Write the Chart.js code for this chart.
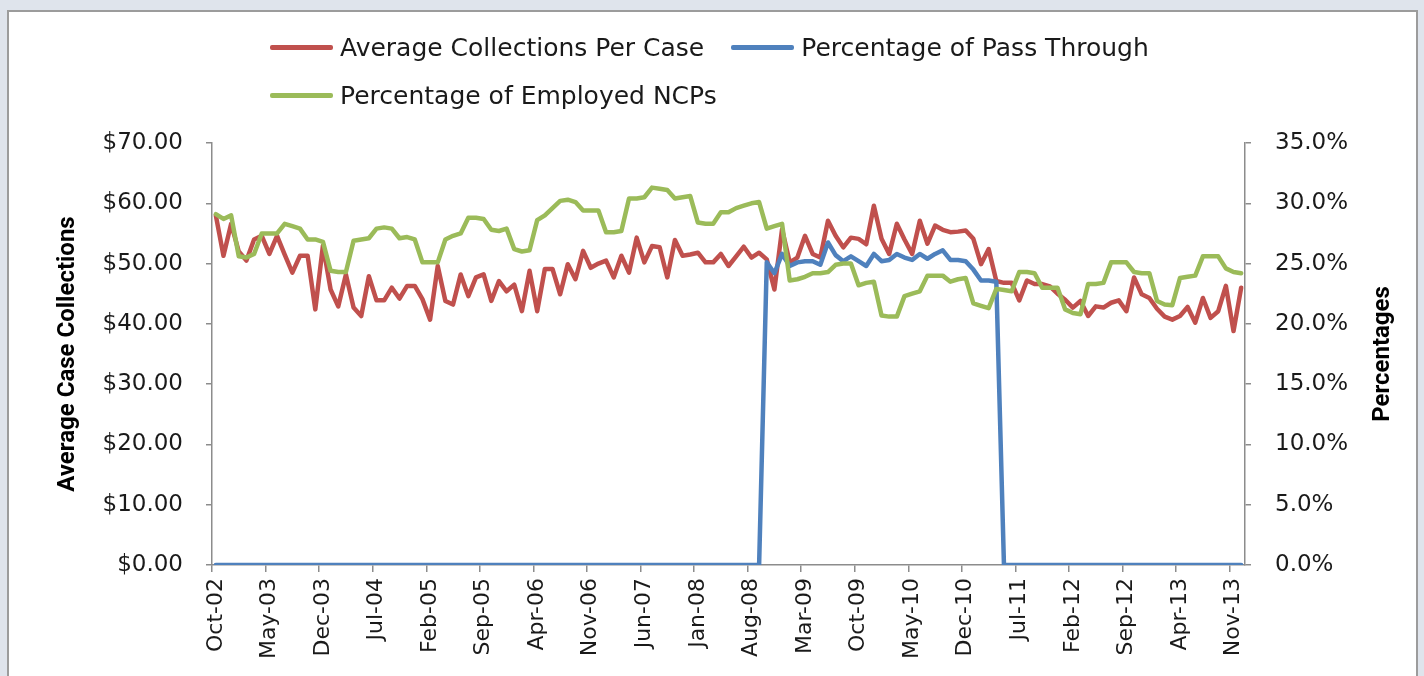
<!DOCTYPE html>
<html>
<head>
<meta charset="utf-8">
<script src="https://cdn.jsdelivr.net/npm/chart.js@4.4.1/dist/chart.umd.min.js"></script>
<style>
  html, body { margin:0; padding:0; width:1424px; height:676px; overflow:hidden; background:#dfe4ec; }
  #panel { position:absolute; left:7px; top:10px; width:1407px; height:700px; background:#ffffff;
           border-left:2px solid #9c9c9c; border-top:2px solid #9c9c9c; border-right:2px solid #9c9c9c; }
  #chart { position:absolute; left:0; top:0; }
  .lg-row { position:absolute; left:270px; display:flex; align-items:center; height:30px;
            font-family:"DejaVu Sans", sans-serif; font-size:25px; color:#1a1a1a; white-space:nowrap; }
  .lg-item { display:flex; align-items:center; margin-right:27px; }
  .lg-sw { width:63px; height:5px; border-radius:2px; margin-right:7px; }
</style>
</head>
<body>
<div id="panel"></div>
<canvas id="chart" width="1424" height="676"></canvas>
<div id="legend"></div>
<script>
// ---------------- data ----------------
const MONTH_NAMES = ['Jan','Feb','Mar','Apr','May','Jun','Jul','Aug','Sep','Oct','Nov','Dec'];
const START_YEAR = 2002;
const START_MONTH = 9; // Oct

const seriesNames = ['Average Collections Per Case', 'Percentage of Pass Through', 'Percentage of Employed NCPs'];
const seriesColors = ['#c0504d', '#4f81bd', '#9bbb59'];

// Average Collections Per Case ($), monthly Oct-02 .. Dec-13
const avgCollections = [
  58.0, 51.3, 56.6, 52.0, 50.5, 54.0, 54.6, 51.6, 54.6, 51.5,
  48.5, 51.3, 51.3, 42.4, 53.0, 45.7, 42.9, 48.2, 42.7, 41.3,
  47.9, 43.9, 43.9, 46.0, 44.2, 46.3, 46.3, 44.1, 40.7, 49.6,
  43.8, 43.2, 48.2, 44.6, 47.7, 48.2, 43.8, 47.1, 45.4, 46.5,
  42.1, 48.8, 42.1, 49.1, 49.1, 44.9, 49.9, 47.4, 52.1, 49.3,
  50.0, 50.5, 47.7, 51.3, 48.5, 54.3, 50.2, 52.9, 52.7, 47.7,
  53.9, 51.3, 51.5, 51.8, 50.2, 50.2, 51.6, 49.6, 51.2, 52.8,
  51.0, 51.8, 50.7, 45.7, 55.7, 50.2, 51.0, 54.6, 51.6, 51.0,
  57.1, 54.6, 52.7, 54.3, 54.1, 53.2, 59.6, 54.1, 51.6, 56.6,
  54.0, 51.6, 57.1, 53.3, 56.3, 55.6, 55.2, 55.3, 55.5, 54.1,
  49.9, 52.4, 47.1, 46.8, 46.8, 43.9, 47.2, 46.6, 46.6, 46.2,
  45.0, 44.0, 42.7, 43.8, 41.3, 42.9, 42.7, 43.5, 43.9, 42.1,
  47.7, 44.9, 44.3, 42.5, 41.2, 40.7, 41.3, 42.8, 40.2, 44.3,
  41.0, 42.1, 46.3, 38.8, 46.0
];

// Percentage of Pass Through (%)
const passThrough = [
  0, 0, 0, 0, 0, 0, 0, 0, 0, 0,
  0, 0, 0, 0, 0, 0, 0, 0, 0, 0,
  0, 0, 0, 0, 0, 0, 0, 0, 0, 0,
  0, 0, 0, 0, 0, 0, 0, 0, 0, 0,
  0, 0, 0, 0, 0, 0, 0, 0, 0, 0,
  0, 0, 0, 0, 0, 0, 0, 0, 0, 0,
  0, 0, 0, 0, 0, 0, 0, 0, 0, 0,
  0, 0, 25.1, 24.2, 25.8, 24.8, 25.1, 25.2, 25.2, 24.9,
  26.75, 25.7, 25.2, 25.6, 25.2, 24.8, 25.8, 25.2, 25.3, 25.8,
  25.5, 25.3, 25.8, 25.4, 25.8, 26.1, 25.3, 25.3, 25.2, 24.5,
  23.6, 23.6, 23.5, 0, 0, 0, 0, 0, 0, 0,
  0, 0, 0, 0, 0, 0, 0, 0, 0, 0,
  0, 0, 0, 0, 0, 0, 0, 0, 0, 0,
  0, 0, 0, 0, 0
];

// Percentage of Employed NCPs (%)
const employedNCPs = [
  29.1, 28.7, 29.0, 25.6, 25.5, 25.8, 27.5, 27.5, 27.5, 28.3,
  28.1, 27.9, 27.0, 27.0, 26.8, 24.4, 24.3, 24.3, 26.9, 27.0,
  27.1, 27.9, 28.0, 27.9, 27.1, 27.2, 27.0, 25.1, 25.1, 25.1,
  27.0, 27.3, 27.5, 28.8, 28.8, 28.7, 27.8, 27.7, 27.9, 26.2,
  26.0, 26.1, 28.6, 29.0, 29.6, 30.2, 30.3, 30.1, 29.4, 29.4,
  29.4, 27.6, 27.6, 27.7, 30.4, 30.4, 30.5, 31.3, 31.2, 31.1,
  30.4, 30.5, 30.6, 28.4, 28.3, 28.3, 29.25, 29.25, 29.6, 29.8,
  30.0, 30.1, 27.9, 28.1, 28.3, 23.6, 23.7, 23.9, 24.2, 24.2,
  24.3, 24.9, 25.0, 25.0, 23.2, 23.4, 23.5, 20.7, 20.6, 20.6,
  22.3, 22.5, 22.7, 24.0, 24.0, 24.0, 23.5, 23.7, 23.8, 21.7,
  21.5, 21.3, 22.9, 22.8, 22.7, 24.3, 24.3, 24.2, 23.0, 23.0,
  23.0, 21.2, 20.9, 20.8, 23.3, 23.3, 23.4, 25.1, 25.1, 25.1,
  24.3, 24.2, 24.2, 21.9, 21.6, 21.55, 23.8, 23.9, 24.0, 25.6,
  25.6, 25.6, 24.6, 24.3, 24.2
];

const LABEL_STEP = 7;
const leftTicks = { min: 0, max: 70, step: 10 };
const rightTicks = { min: 0, max: 35, step: 5 };
const leftTitle = 'Average Case Collections';
const rightTitle = 'Percentages';

// category labels (Oct-02 ...)
const categories = avgCollections.map((_, i) => {
  const m = START_MONTH + i;
  const yy = (START_YEAR + Math.floor(m / 12)) % 100;
  return MONTH_NAMES[m % 12] + '-' + String(yy).padStart(2, '0');
});

// ---------------- legend (HTML) ----------------
(function buildLegend() {
  const rows = [[0, 1], [2]];
  const tops = [32, 80];
  const host = document.getElementById('legend');
  rows.forEach((row, r) => {
    const div = document.createElement('div');
    div.className = 'lg-row';
    div.style.top = tops[r] + 'px';
    row.forEach(k => {
      const it = document.createElement('div');
      it.className = 'lg-item';
      const sw = document.createElement('span');
      sw.className = 'lg-sw';
      sw.style.background = seriesColors[k];
      const tx = document.createElement('span');
      tx.textContent = seriesNames[k];
      it.appendChild(sw); it.appendChild(tx);
      div.appendChild(it);
    });
    host.appendChild(div);
  });
})();

// ---------------- chart ----------------
const AXIS = '#8c8c8c';
const TXT = '#1a1a1a';

const rightTitlePlugin = {
  id: 'rightTitlePlugin',
  afterDraw(chart) {
    const { ctx, chartArea } = chart;
    const s = chart.scales.y1;
    ctx.save();
    ctx.translate(s.right - 41, (chartArea.top + chartArea.bottom) / 2);
    ctx.rotate(-Math.PI / 2);
    ctx.font = 'bold 24px Roboto';
    ctx.fillStyle = '#000';
    ctx.textAlign = 'center';
    ctx.textBaseline = 'middle';
    ctx.fillText(rightTitle, 0, 0);
    ctx.restore();
  }
};

new Chart(document.getElementById('chart'), {
  type: 'line',
  data: {
    labels: categories,
    datasets: [
      { label: seriesNames[0], data: avgCollections, yAxisID: 'y', borderColor: seriesColors[0], order: 2 },
      { label: seriesNames[1], data: passThrough, yAxisID: 'y1', borderColor: seriesColors[1], order: 1 },
      { label: seriesNames[2], data: employedNCPs, yAxisID: 'y1', borderColor: seriesColors[2], order: 0 }
    ]
  },
  options: {
    responsive: false,
    animation: false,
    devicePixelRatio: 1,
    layout: { padding: { top: 143, left: 0, right: 0, bottom: 0 } },
    elements: {
      line: { borderWidth: 4.5, tension: 0, borderJoinStyle: 'round', borderCapStyle: 'round', fill: false },
      point: { radius: 0, hoverRadius: 0 }
    },
    plugins: { legend: { display: false }, tooltip: { enabled: false }, title: { display: false } },
    scales: {
      x: {
        offset: true,
        grid: {
          offset: true, drawOnChartArea: false, drawTicks: true, tickLength: 7, lineWidth: 1.5,
          color: (c) => (c.index % LABEL_STEP === 0 ? AXIS : 'rgba(0,0,0,0)')
        },
        border: { display: true, color: AXIS, width: 1.5 },
        ticks: {
          autoSkip: false, minRotation: 90, maxRotation: 90, padding: 6, color: TXT,
          font: { family: 'DejaVu Sans', size: 22 },
          callback: (v, i) => (i % LABEL_STEP === 0 ? categories[i] : '')
        },
        afterFit: (s) => { s.height = 111; }
      },
      y: {
        position: 'left', min: leftTicks.min, max: leftTicks.max,
        grid: { drawOnChartArea: false, tickLength: 6, color: AXIS, lineWidth: 1.5 },
        border: { display: true, color: AXIS, width: 1.5 },
        ticks: {
          stepSize: leftTicks.step, padding: 23, color: TXT,
          font: { family: 'DejaVu Sans', size: 23 },
          callback: (v) => '$' + Number(v).toFixed(2)
        },
        title: {
          display: true, text: leftTitle, color: '#000',
          font: { family: 'Roboto', weight: 'bold', size: 24 },
          padding: { top: 54, bottom: 0 }
        },
        afterFit: (s) => { s.width = 212; }
      },
      y1: {
        position: 'right', min: rightTicks.min, max: rightTicks.max,
        grid: { drawOnChartArea: false, tickLength: 6, color: AXIS, lineWidth: 1.5 },
        border: { display: true, color: AXIS, width: 1.5 },
        ticks: {
          stepSize: rightTicks.step, padding: 24, color: TXT,
          font: { family: 'DejaVu Sans', size: 23 },
          callback: (v) => Number(v).toFixed(1) + '%'
        },
        afterFit: (s) => { s.width = 179; }
      }
    }
  },
  plugins: [rightTitlePlugin]
});
</script>
</body>
</html>
